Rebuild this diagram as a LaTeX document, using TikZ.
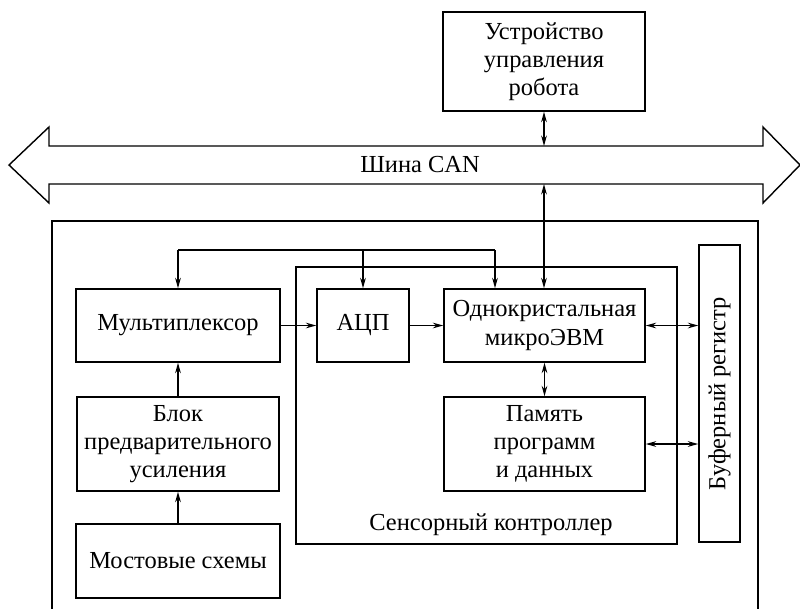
\documentclass[tikz,border=0pt]{standalone}
\usepackage{fontspec}
\setmainfont{Liberation Serif}
\usetikzlibrary{arrows.meta}

\tikzset{
	blk/.style = {draw, line width=1pt, align=center, inner sep=2pt},
	sig/.style = {line width=1.1pt, -{Stealth[length=2.6mm, width=1.4mm]}},
	bisig/.style = {line width=1.1pt, {Stealth[length=2.6mm, width=1.4mm]}-{Stealth[length=2.6mm, width=1.4mm]}}
}

\begin{document}
\begin{tikzpicture}[x=0.025cm, y=-0.025cm, font=\rmfamily\fontsize{17.4}{20}\selectfont]
	\useasboundingbox (0,0) rectangle (800,608);

	% robot controller and CAN bus
	\node [blk, minimum width=5.05cm, minimum height=2.475cm] (robot) at (544, 61.5) {Устройство\\управления\\робота};
	\draw [line width=1pt] (9,165) -- (49,127) -- (49,146) -- (763,146) -- (763,127) -- (800,165)
		-- (763,203) -- (763,184) -- (49,184) -- (49,203) -- cycle;
	\node (bus) at (420,165) {Шина CAN};
	\coordinate (bustop) at (544,146);
	\coordinate (busbot) at (544,184);

	% outer frame and sensor controller
	\draw [line width=1pt] (52,620) -- (52,221) -- (758,221) -- (758,620);
	\draw [line width=1pt] (296,267) rectangle (677,544);
	\node (ctrl) at (491,525) {Сенсорный контроллер};

	% blocks
	\node [blk, minimum width=5.1cm, minimum height=1.825cm] (mux) at (178,325.5) {Мультиплексор};
	\node [blk, minimum width=2.3cm, minimum height=1.825cm] (adc) at (363,325.5) {АЦП};
	\node [blk, minimum width=5.025cm, minimum height=1.825cm] (evm) at (544.5,325.5) {Однокристальная\\микроЭВМ};
	\node [blk, minimum width=5.025cm, minimum height=2.35cm] (mem) at (544.5,444) {Память\\программ\\и данных};
	\node [blk, minimum width=5.05cm, minimum height=2.35cm] (amp) at (178,444) {Блок\\предварительного\\усиления};
	\node [blk, minimum width=5.1cm, minimum height=1.85cm] (bridge) at (178,561) {Мостовые схемы};
	\node [blk, minimum width=1.025cm, minimum height=7.425cm] (buf) at (719.5,393.5) {};
	\node [rotate=90] (buftxt) at (buf.center) {Буферный регистр};

	% control lines
	\coordinate (cl) at (178,250);
	\coordinate (cr) at (495,250);
	\draw [line width=1.1pt] (cl) -- (cr);
	\draw [sig] (cl) -- (mux.north);
	\draw [sig] (cl -| adc.north) -- (adc.north);
	\draw [sig] (cr) -- (cr |- evm.north);

	% data flow
	\draw [bisig] (robot.south) -- (bustop);
	\draw [bisig] (busbot) -- (busbot |- evm.north);
	\draw [sig] (bridge.north) -- (amp.south);
	\draw [sig] (amp.north) -- (mux.south);
	\draw [sig] (mux.east) -- (adc.west);
	\draw [sig] (adc.east) -- (evm.west);
	\draw [bisig] (evm.south) -- (mem.north);
	\draw [bisig] (evm.east) -- (evm.east -| buf.west);
	\draw [bisig] (mem.east) -- (mem.east -| buf.west);
\end{tikzpicture}
\end{document}
